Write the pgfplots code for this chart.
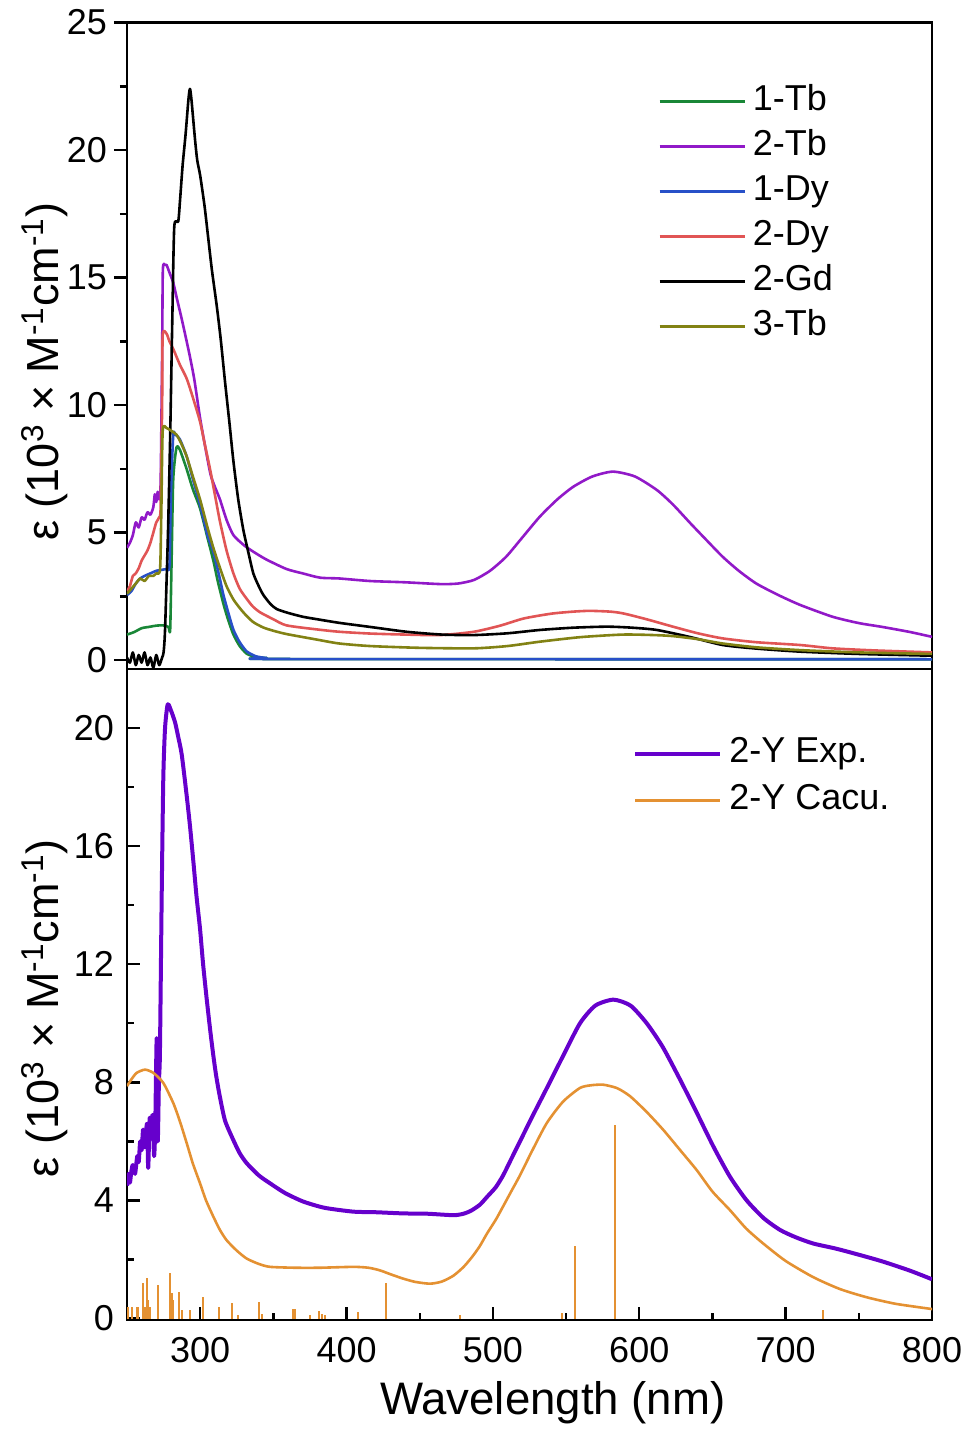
\documentclass[border=0pt]{standalone}
\usepackage{pgfplots}
\pgfplotsset{compat=1.18}
\usepackage{fontspec}
\setmainfont{Liberation Sans}
\definecolor{c1tb}{RGB}{25,135,55}
\definecolor{c2tb}{RGB}{145,25,200}
\definecolor{c1dy}{RGB}{40,80,200}
\definecolor{c2dy}{RGB}{225,85,85}
\definecolor{c3tb}{RGB}{130,130,20}
\definecolor{cexp}{RGB}{102,0,204}
\definecolor{ccal}{RGB}{228,145,50}
\pgfplotsset{
  common/.style={
    scale only axis, width=402.5pt,
    xmin=250, xmax=800,
    /pgf/number format/assume math mode=true,
    axis line style={line width=1.2pt},
    every tick/.style={black, line width=1.2pt},
    major tick length=6.5pt, minor tick length=3.5pt,
    ticklabel style={font=\fontsize{18}{21}\selectfont},
    label style={font=\fontsize{22.5}{26}\selectfont},
    legend style={draw=none, fill=none, font=\fontsize{18}{21}\selectfont,
      nodes={inner sep=0pt, text height=12.5pt, text depth=4pt},
      row sep=6pt, legend cell align=left,
      /tikz/every odd column/.append style={column sep=3.5pt}},
    legend image code/.code={\draw[#1] (0pt,0pt) -- (42.5pt,0pt);},
    ytick pos=left, xtick pos=bottom,
  }
}
\begin{document}
\begin{tikzpicture}
\path[use as bounding box] (0,0) rectangle (484.5pt,717.5pt);
% ---------------- top panel ----------------
\begin{axis}[common,
  at={(63.5pt,383pt)}, anchor=south west, height=323.2pt,
  ymin=-0.35, ymax=25,
  ytick={0,5,10,15,20,25}, minor y tick num=1,
  xtick=\empty, tick align=outside,
  ylabel={ε (10\textsuperscript{3} × M\textsuperscript{-1}cm\textsuperscript{-1})},
  ylabel style={at={(axis description cs:-0.102,0.46)}, anchor=center},
  legend style={at={(axis description cs:0.652,0.91)}, anchor=north west},
  every axis plot/.append style={line width=1.3pt, line join=round, smooth, tension=0.4},
]
\addplot[c1tb] coordinates {
(250,1.0)(255,1.1)(260,1.25)(265,1.3)(270,1.35)(274.8,1.36)(278.3,1.3)(279.5,1.2)(280.5,4.0)(281.6,7.1)(283.8,8.33)(286.1,8.25)(290.7,7.5)(295,6.7)(299.9,5.95)(305,4.8)(309,3.9)(312,3.1)(315.9,2.2)(319,1.6)(322.7,1.0)(327,0.55)(331.8,0.25)(338,0.12)(345.5,0.08)(360,0.04)(800,0.03)};
\addlegendentry{1-Tb}
\addplot[c2tb] coordinates {
(250,4.4)(252,4.6)(254,4.9)(256,5.4)(258,5.2)(260,5.6)(262,5.5)(264,5.8)(266,5.7)(268,6.0)(269,6.5)(270,6.2)(271,6.6)(272,6.3)(273,7.0)(274,12.0)(274.5,15.3)(276,15.5)(277,15.5)(279,15.2)(281.6,14.8)(284,14.2)(287.3,13.4)(290,12.7)(293,11.9)(296,11.0)(299.9,9.5)(303,8.5)(307,7.3)(310,6.8)(313.5,6.3)(318,5.5)(322.7,4.9)(330,4.5)(336.3,4.25)(345,3.95)(359,3.57)(370,3.4)(382,3.23)(395,3.2)(416,3.1)(440,3.05)(464,2.98)(476,3.0)(487,3.14)(498,3.5)(509,4.05)(520,4.8)(532,5.62)(544,6.3)(555,6.8)(568,7.2)(582,7.39)(597,7.2)(612,6.67)(623,6.1)(635,5.36)(646,4.7)(657,4.05)(668,3.5)(680,3.0)(695,2.55)(710,2.16)(732,1.7)(750,1.45)(766,1.3)(785,1.1)(800,0.91)};
\addlegendentry{2-Tb}
\addplot[c1dy] coordinates {
(250,2.55)(253,2.7)(256,3.0)(259,3.2)(262,3.3)(266,3.4)(270,3.5)(275,3.55)(277,3.57)(279,3.7)(280,6.5)(281.6,8.84)(283,8.84)(286,8.67)(290.7,8.0)(295,7.1)(299.9,6.1)(305,4.9)(309,4.25)(313,3.3)(315.9,2.55)(319,1.9)(322.7,1.19)(327,0.7)(331.8,0.34)(338,0.15)(345.5,0.08)(360,0.04)(800,0.03)};
\addlegendentry{1-Dy}
\addplot[c2dy] coordinates {
(250,2.7)(252,2.9)(254,3.3)(256,3.4)(258,3.6)(260,3.9)(262,4.1)(264,4.3)(266,4.6)(268,5.0)(270,5.4)(272,5.6)(273,6.0)(274,10.0)(274.4,12.75)(277,12.8)(279,12.5)(281.6,12.2)(286,11.6)(290.7,11.05)(295,10.3)(299.9,9.35)(303,8.5)(306.7,7.5)(310,6.5)(313.5,5.44)(318,4.3)(322.7,3.4)(327,2.8)(331.8,2.4)(336,2.1)(341,1.87)(350,1.6)(359,1.36)(380,1.2)(395,1.11)(416,1.04)(440,1.0)(464,0.98)(487,1.11)(505,1.35)(521,1.63)(540,1.82)(555,1.9)(566,1.93)(580,1.9)(589,1.83)(605,1.6)(623,1.31)(640,1.05)(657,0.85)(680,0.7)(710,0.59)(732,0.46)(760,0.38)(800,0.3)};
\addlegendentry{2-Dy}
\addplot[black] coordinates {
(250,0.1)(252,-0.1)(254,0.3)(256,-0.2)(258,0.2)(260,-0.1)(262,0.3)(264,-0.2)(266,0.1)(268,-0.3)(270,0.2)(272,-0.2)(274,0.1)(275,0.3)(276,1.2)(278,5.0)(279.5,8.8)(281,13.5)(282.3,17.0)(285,17.2)(286.2,18.0)(288,19.4)(290,20.6)(292,22.0)(293,22.4)(294,22.0)(296.5,20.4)(298,19.6)(300,19.0)(303,17.8)(305.6,16.5)(308,15.3)(311.3,13.9)(314,12.6)(317,10.9)(320,9.3)(322.7,7.8)(326,6.3)(329.5,5.1)(333,4.2)(336.3,3.4)(340,2.9)(343.2,2.55)(348,2.2)(352.3,2.0)(360,1.85)(370,1.7)(380,1.6)(395,1.46)(416,1.3)(441,1.11)(465,1.0)(487,0.98)(510,1.05)(532,1.18)(555,1.27)(578,1.31)(595,1.27)(612,1.18)(635,0.9)(657,0.59)(680,0.45)(710,0.33)(750,0.24)(800,0.17)};
\addlegendentry{2-Gd}
\addplot[c3tb] coordinates {
(250,2.6)(253,2.8)(256,3.0)(259,3.2)(262,3.1)(265,3.3)(268,3.3)(270,3.4)(272.6,3.57)(273.5,6.0)(274.4,9.0)(277,9.1)(280,9.0)(283.8,8.84)(287,8.5)(290.7,8.0)(295,7.2)(299.9,6.3)(305,5.2)(309,4.4)(313,3.7)(318,2.9)(323,2.35)(329.5,1.87)(336,1.5)(343,1.28)(350,1.15)(359,1.02)(380,0.8)(395,0.65)(416,0.55)(450,0.48)(487,0.46)(510,0.55)(532,0.72)(560,0.9)(589,1.0)(610,0.98)(623,0.94)(640,0.82)(657,0.65)(680,0.5)(710,0.39)(750,0.3)(800,0.24)};
\addlegendentry{3-Tb}
\end{axis}
% ---------------- bottom panel ----------------
\begin{axis}[common,
  at={(63.5pt,57.5pt)}, anchor=south west, height=325.5pt,
  ymin=-0.05, ymax=22,
  ytick={0,4,8,12,16,20}, minor y tick num=1,
  xtick={300,400,500,600,700,800}, minor x tick num=1,
  tick align=inside,
  xticklabel style={yshift=-5pt},
  yticklabel style={xshift=-3pt},
  xlabel={Wavelength (nm)},
  xlabel style={at={(axis description cs:0.529,-0.1275)}, anchor=center, font=\fontsize{22.8}{26}\selectfont},
  ylabel={ε (10\textsuperscript{3} × M\textsuperscript{-1}cm\textsuperscript{-1})},
  ylabel style={at={(axis description cs:-0.102,0.479)}, anchor=center},
  legend style={at={(axis description cs:0.621,0.902)}, anchor=north west, row sep=7pt},
]
\addplot[ycomb, ccal, line width=1pt, forget plot] coordinates {
(250.9,0.40)(253.2,0.40)(256.6,0.38)(257.7,0.40)(260.7,1.22)(262.3,0.40)(263.4,1.36)(264.6,0.62)(265.7,0.38)(271.4,1.14)(279.4,1.53)(280.5,0.85)(281.7,0.62)(285.8,0.91)(287.4,0.28)(293,0.28)(302.1,0.74)(313.1,0.40)(322,0.51)(326.1,0.11)(340.4,0.57)(342,0.17)(363.6,0.31)(365,0.31)(375,0.11)(381.4,0.26)(383,0.17)(385.3,0.11)(408,0.23)(426.7,1.19)(477.5,0.11)(547,0.2)(556,2.45)(583.4,6.55)(725.8,0.28)};
\addplot[cexp, line width=2pt, line join=round, smooth, tension=0.4] coordinates {
(250,4.5)(251,4.9)(252,4.6)(253,5.0)(254,5.2)(255.5,4.9)(257,5.5)(258,5.3)(259,6.0)(260,5.7)(261,6.4)(262,5.8)(263.7,6.6)(264.5,5.1)(265.5,6.8)(266.5,6.1)(267.5,6.9)(268.5,5.5)(269.3,6.5)(270.3,9.5)(271,6.0)(271.8,8.0)(272.5,9.0)(273.7,14.3)(274.8,18.3)(276,20.0)(277.8,20.8)(280,20.6)(282.8,20.2)(285,19.7)(287.4,19.1)(290.8,17.7)(293,16.7)(295.3,15.5)(297.5,14.3)(299.9,13.2)(302,12.0)(304.5,10.8)(307,9.7)(309,8.9)(311,8.2)(313.5,7.5)(317,6.7)(322.6,6.05)(327,5.6)(331.8,5.26)(340,4.85)(347.7,4.58)(358,4.25)(370.5,3.96)(385,3.75)(404.6,3.62)(420,3.6)(438.8,3.56)(455,3.55)(473,3.5)(480,3.55)(485,3.65)(491,3.85)(496,4.12)(502,4.45)(507,4.85)(512.5,5.4)(518.5,6.0)(527,6.85)(536.8,7.8)(548,8.9)(559.5,10.0)(570,10.6)(582.3,10.8)(594,10.6)(605.1,10.0)(616,9.2)(627.8,8.1)(639,7.0)(650.6,5.83)(662,4.8)(673.4,4.0)(685,3.4)(696.2,3.0)(707,2.75)(718.9,2.54)(735,2.36)(753,2.12)(767,1.92)(785,1.62)(800,1.33)};
\addlegendentry{2-Y Exp.}
\addplot[ccal, line width=1.3pt, line join=round, smooth, tension=0.4] coordinates {
(250,7.87)(253,8.1)(256.6,8.32)(262.3,8.43)(268,8.32)(274.8,7.98)(281.6,7.3)(286,6.7)(290.8,5.94)(295,5.25)(299.9,4.58)(304,4.0)(309,3.45)(313.5,3.0)(318.1,2.65)(325,2.3)(331.8,2.03)(340,1.85)(347.7,1.75)(365,1.72)(381.9,1.72)(404.6,1.75)(415,1.72)(422.9,1.63)(430,1.5)(438.8,1.35)(447,1.24)(457,1.18)(465,1.25)(473,1.45)(480,1.75)(486,2.1)(491,2.45)(496,2.88)(502,3.35)(507,3.8)(513,4.35)(518.5,4.85)(527,5.7)(536.8,6.62)(548,7.35)(559.5,7.81)(567,7.9)(575.4,7.92)(585,7.8)(593.7,7.53)(605,7.0)(616.4,6.39)(628,5.7)(639.2,5.03)(650,4.3)(662,3.67)(673,3.05)(684.7,2.54)(700,1.95)(718.9,1.4)(737,1.0)(755.4,0.72)(775,0.5)(798.6,0.33)(800,0.32)};
\addlegendentry{2-Y Cacu.}
\end{axis}
\end{tikzpicture}
\end{document}
